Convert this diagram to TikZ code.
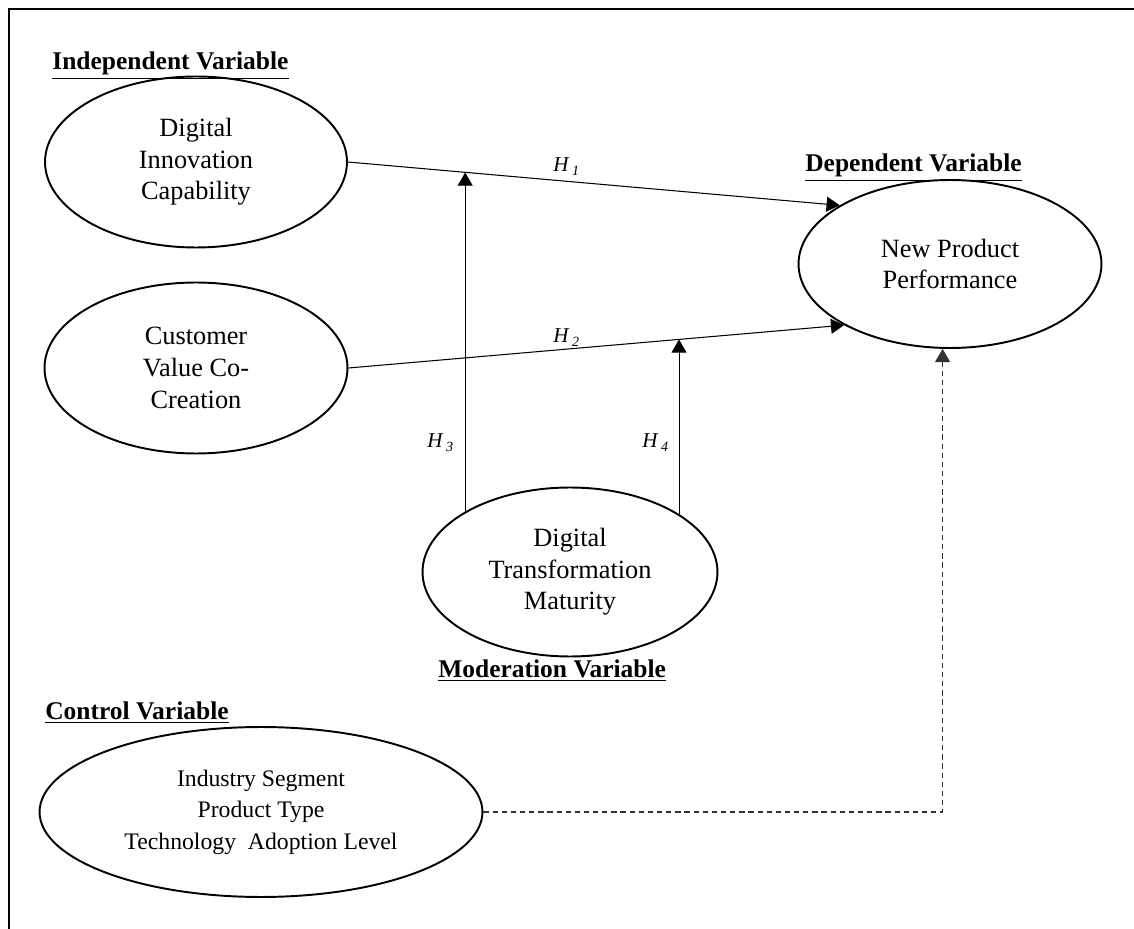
\documentclass[tikz,border=0pt]{standalone}
\usepackage{fontspec}
\setmainfont{Liberation Serif}
\usetikzlibrary{arrows.meta,shapes.geometric,calc}

\begin{document}
\begin{tikzpicture}[
    x=0.02cm, y=-0.02cm,
    construct/.style={draw, ellipse, line width=1.1pt, inner sep=0pt, align=center, font=\fontsize{15}{18}\selectfont},
    heading/.style={anchor=base west, inner sep=0pt, font=\fontsize{14.5}{16}\selectfont\bfseries},
    hyp/.style={anchor=base west, inner sep=0pt, font=\fontsize{12}{14}\selectfont\itshape},
    flow/.style={-{Triangle[length=7.5pt, width=8.5pt]}, line width=0.6pt},
    control/.style={-{Triangle[length=7.5pt, width=8.5pt]}, line width=0.6pt, dash pattern=on 3pt off 2.2pt, black!80}
]
\useasboundingbox (0,0) rectangle (1134,929);
\draw[line width=1pt] (9,929) -- (9,9) -- (1134,9);
\node[construct, minimum width=6.04cm, minimum height=3.42cm] (dic) at (196,162) {Digital\\Innovation\\Capability};
\node[construct, minimum width=6.06cm, minimum height=3.42cm] (cvc) at (196,368) {Customer\\Value Co-\\Creation};
\node[construct, minimum width=6.06cm, minimum height=3.36cm] (npp) at (950,264) {New Product\\Performance};
\node[construct, minimum width=5.9cm, minimum height=3.38cm] (dtm) at (570,572) {Digital\\Transformation\\Maturity};
\node[construct, minimum width=8.86cm, minimum height=3.4cm, font=\fontsize{13.5}{18}\selectfont] (ctrl) at (261,812) {Industry Segment\\Product Type\\Technology\ \ Adoption Level};
\node[heading] (indep) at (52,70) {\underline{Independent Variable}};
\node[heading] (dep) at (805,172) {\underline{Dependent Variable}};
\node[heading] (moder) at (438,678) {\underline{Moderation Variable}};
\node[heading] (contr) at (45,720) {\underline{Control Variable}};
\coordinate (m1) at ($(dic.east)!0.243!(npp.152)$);
\coordinate (m2) at ($(cvc.east)!0.666!(npp.210)$);
\draw[flow] (dic.east) -- (npp.152);
\draw[flow] (cvc.east) -- (npp.210);
\draw[flow] (dtm.150) -- (dtm.150 |- m1);
\draw[flow] (dtm.28) -- (dtm.28 |- m2);
\draw[control] (ctrl.east) -| (npp.265);
\node[hyp] (h1) at (553,172) {H\,\textsubscript{1}};
\node[hyp] (h2) at (553,343) {H\,\textsubscript{2}};
\node[hyp] (h3) at (427,448) {H\,\textsubscript{3}};
\node[hyp] (h4) at (642,448) {H\,\textsubscript{4}};
\end{tikzpicture}
\end{document}
